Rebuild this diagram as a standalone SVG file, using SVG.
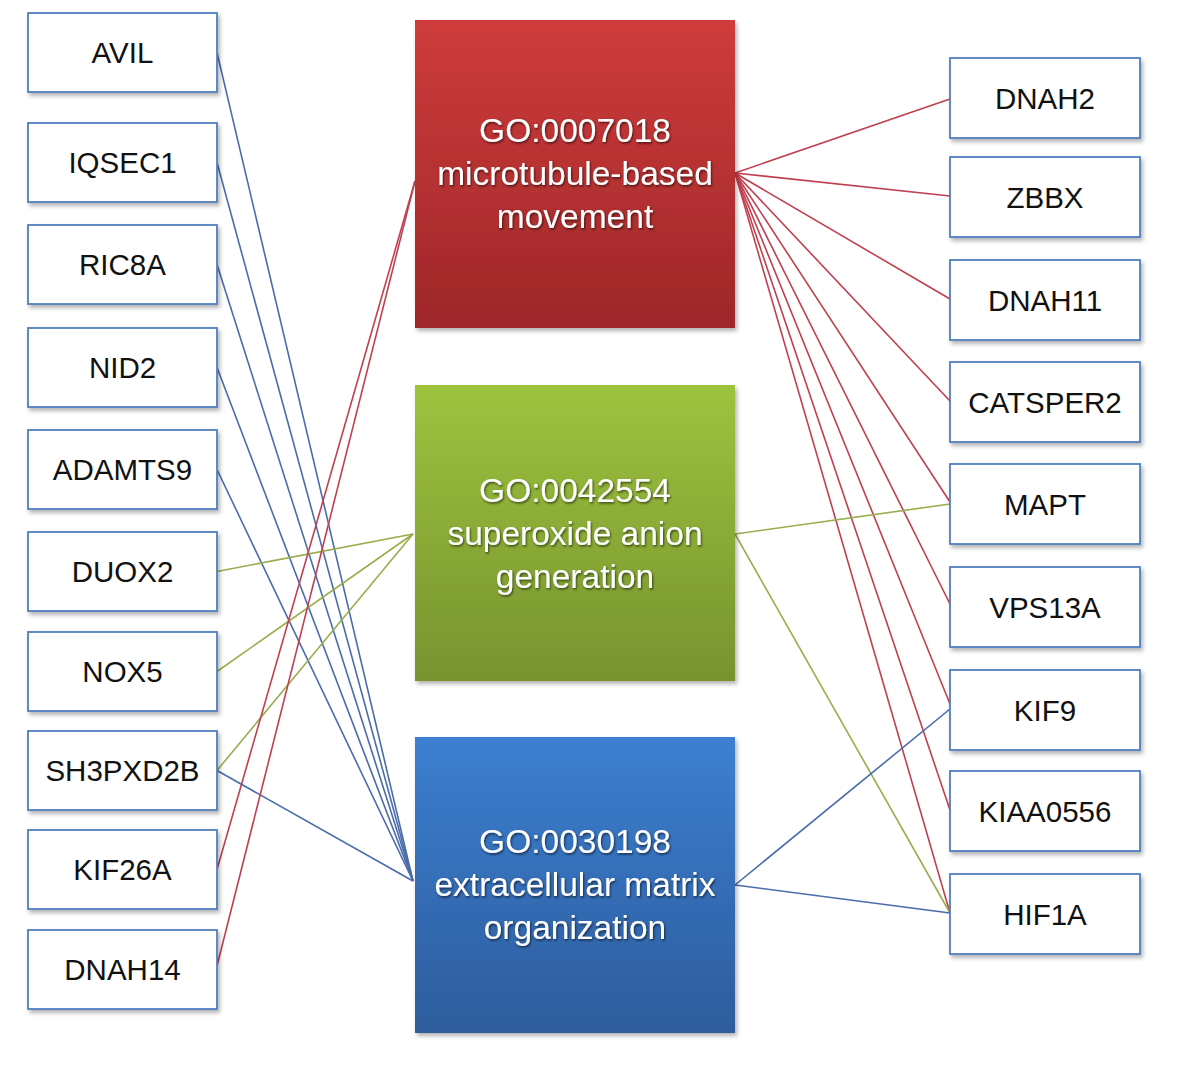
<svg xmlns="http://www.w3.org/2000/svg" width="1181" height="1074" viewBox="0 0 1181 1074">
  <defs>
    <linearGradient id="gRed" x1="0" y1="0" x2="0" y2="1">
      <stop offset="0" stop-color="#cf3b3b"/>
      <stop offset="1" stop-color="#9e2729"/>
    </linearGradient>
    <linearGradient id="gGreen" x1="0" y1="0" x2="0" y2="1">
      <stop offset="0" stop-color="#9dc33e"/>
      <stop offset="1" stop-color="#76932f"/>
    </linearGradient>
    <linearGradient id="gBlue" x1="0" y1="0" x2="0" y2="1">
      <stop offset="0" stop-color="#3c7fd1"/>
      <stop offset="1" stop-color="#2d5c9c"/>
    </linearGradient>
    <filter id="boxShadow" x="-10%" y="-10%" width="125%" height="125%">
      <feDropShadow dx="2" dy="3" stdDeviation="2" flood-color="#000" flood-opacity="0.3"/>
    </filter>
    <filter id="txtShadow" x="-10%" y="-20%" width="120%" height="150%">
      <feDropShadow dx="1" dy="1.5" stdDeviation="1" flood-color="#000" flood-opacity="0.6"/>
    </filter>
  </defs>
  <style>
    .gene rect { fill: #ffffff; stroke: #4f7fbf; stroke-width: 1.8; }
    .gene text { font-family: "Liberation Sans", Arial, sans-serif; font-size: 29.5px; fill: #111; text-anchor: middle; }
    .term text { font-family: "Liberation Sans", Arial, sans-serif; font-size: 33.5px; fill: #ffffff; text-anchor: middle; }
    .cr { stroke: #c0404f; stroke-width: 1.6; fill: none; }
    .cb { stroke: #4a6cab; stroke-width: 1.6; fill: none; }
    .cg { stroke: #98ad4c; stroke-width: 1.6; fill: none; }
  </style>
  <rect x="0" y="0" width="1181" height="1074" fill="#ffffff"/>

  <g id="connectors">
    <!-- left to blue (GO:0030198) -->
    <line class="cb" x1="217" y1="52.5" x2="413" y2="881"/>
    <line class="cb" x1="217" y1="162.5" x2="413" y2="881"/>
    <line class="cb" x1="217" y1="264.5" x2="413" y2="881"/>
    <line class="cb" x1="217" y1="367.5" x2="413" y2="881"/>
    <line class="cb" x1="217" y1="469.5" x2="413" y2="881"/>
    <line class="cb" x1="217" y1="770.5" x2="413" y2="881"/>
    <!-- left to green (GO:0042554) -->
    <line class="cg" x1="217" y1="571.5" x2="413" y2="534"/>
    <line class="cg" x1="217" y1="671.5" x2="413" y2="534"/>
    <line class="cg" x1="217" y1="770.5" x2="413" y2="534"/>
    <!-- left to red (GO:0007018) -->
    <line class="cr" x1="217" y1="869.5" x2="415" y2="181"/>
    <line class="cr" x1="217" y1="966" x2="415" y2="181"/>
    <!-- red to right -->
    <line class="cr" x1="735" y1="173" x2="950" y2="99"/>
    <line class="cr" x1="735" y1="173" x2="950" y2="196"/>
    <line class="cr" x1="735" y1="173" x2="950" y2="299"/>
    <line class="cr" x1="735" y1="173" x2="950" y2="401"/>
    <line class="cr" x1="735" y1="173" x2="950" y2="502"/>
    <line class="cr" x1="735" y1="173" x2="950" y2="604"/>
    <line class="cr" x1="735" y1="173" x2="950" y2="704"/>
    <line class="cr" x1="735" y1="173" x2="950" y2="810"/>
    <line class="cr" x1="735" y1="173" x2="950" y2="913"/>
    <!-- green to right -->
    <line class="cg" x1="735" y1="534" x2="950" y2="504"/>
    <line class="cg" x1="735" y1="534" x2="950" y2="913"/>
    <!-- blue to right -->
    <line class="cb" x1="735" y1="885" x2="950" y2="709"/>
    <line class="cb" x1="735" y1="885" x2="950" y2="913"/>
  </g>

  <!-- GO term nodes -->
  <g id="term-GO0007018" class="term">
    <rect x="415" y="20" width="320" height="308" fill="url(#gRed)" filter="url(#boxShadow)"/>
    <g filter="url(#txtShadow)">
      <text x="575" y="142">GO:0007018</text>
      <text x="575" y="185">microtubule-based</text>
      <text x="575" y="228">movement</text>
    </g>
  </g>
  <g id="term-GO0042554" class="term">
    <rect x="415" y="385" width="320" height="296" fill="url(#gGreen)" filter="url(#boxShadow)"/>
    <g filter="url(#txtShadow)">
      <text x="575" y="502">GO:0042554</text>
      <text x="575" y="545">superoxide anion</text>
      <text x="575" y="588">generation</text>
    </g>
  </g>
  <g id="term-GO0030198" class="term">
    <rect x="415" y="737" width="320" height="296" fill="url(#gBlue)" filter="url(#boxShadow)"/>
    <g filter="url(#txtShadow)">
      <text x="575" y="853">GO:0030198</text>
      <text x="575" y="896">extracellular matrix</text>
      <text x="575" y="939">organization</text>
    </g>
  </g>

  <!-- left gene nodes -->
  <g id="gene-AVIL" class="gene"><rect x="28" y="13" width="189" height="79" filter="url(#boxShadow)"/><text x="122.5" y="63">AVIL</text></g>
  <g id="gene-IQSEC1" class="gene"><rect x="28" y="123" width="189" height="79" filter="url(#boxShadow)"/><text x="122.5" y="173">IQSEC1</text></g>
  <g id="gene-RIC8A" class="gene"><rect x="28" y="225" width="189" height="79" filter="url(#boxShadow)"/><text x="122.5" y="275">RIC8A</text></g>
  <g id="gene-NID2" class="gene"><rect x="28" y="328" width="189" height="79" filter="url(#boxShadow)"/><text x="122.5" y="378">NID2</text></g>
  <g id="gene-ADAMTS9" class="gene"><rect x="28" y="430" width="189" height="79" filter="url(#boxShadow)"/><text x="122.5" y="480">ADAMTS9</text></g>
  <g id="gene-DUOX2" class="gene"><rect x="28" y="532" width="189" height="79" filter="url(#boxShadow)"/><text x="122.5" y="582">DUOX2</text></g>
  <g id="gene-NOX5" class="gene"><rect x="28" y="632" width="189" height="79" filter="url(#boxShadow)"/><text x="122.5" y="682">NOX5</text></g>
  <g id="gene-SH3PXD2B" class="gene"><rect x="28" y="731" width="189" height="79" filter="url(#boxShadow)"/><text x="122.5" y="781">SH3PXD2B</text></g>
  <g id="gene-KIF26A" class="gene"><rect x="28" y="830" width="189" height="79" filter="url(#boxShadow)"/><text x="122.5" y="880">KIF26A</text></g>
  <g id="gene-DNAH14" class="gene"><rect x="28" y="930" width="189" height="79" filter="url(#boxShadow)"/><text x="122.5" y="980">DNAH14</text></g>

  <!-- right gene nodes -->
  <g id="gene-DNAH2" class="gene"><rect x="950" y="58" width="190" height="80" filter="url(#boxShadow)"/><text x="1045" y="109">DNAH2</text></g>
  <g id="gene-ZBBX" class="gene"><rect x="950" y="157" width="190" height="80" filter="url(#boxShadow)"/><text x="1045" y="208">ZBBX</text></g>
  <g id="gene-DNAH11" class="gene"><rect x="950" y="260" width="190" height="80" filter="url(#boxShadow)"/><text x="1045" y="311">DNAH11</text></g>
  <g id="gene-CATSPER2" class="gene"><rect x="950" y="362" width="190" height="80" filter="url(#boxShadow)"/><text x="1045" y="413">CATSPER2</text></g>
  <g id="gene-MAPT" class="gene"><rect x="950" y="464" width="190" height="80" filter="url(#boxShadow)"/><text x="1045" y="515">MAPT</text></g>
  <g id="gene-VPS13A" class="gene"><rect x="950" y="567" width="190" height="80" filter="url(#boxShadow)"/><text x="1045" y="618">VPS13A</text></g>
  <g id="gene-KIF9" class="gene"><rect x="950" y="670" width="190" height="80" filter="url(#boxShadow)"/><text x="1045" y="721">KIF9</text></g>
  <g id="gene-KIAA0556" class="gene"><rect x="950" y="771" width="190" height="80" filter="url(#boxShadow)"/><text x="1045" y="822">KIAA0556</text></g>
  <g id="gene-HIF1A" class="gene"><rect x="950" y="874" width="190" height="80" filter="url(#boxShadow)"/><text x="1045" y="925">HIF1A</text></g>
</svg>
